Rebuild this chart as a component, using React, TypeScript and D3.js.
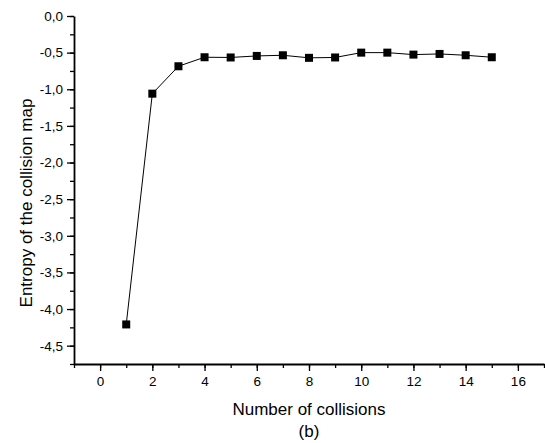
import React, { useRef, useEffect } from "react";
import * as d3 from "d3";

// collisions vs entropy
const collisions = [1, 2, 3, 4, 5, 6, 7, 8, 9, 10, 11, 12, 13, 14, 15];
const entropy = [
  -4.21, -1.06, -0.686, -0.563, -0.566, -0.545, -0.536, -0.571, -0.566, -0.5,
  -0.5, -0.527, -0.518, -0.536, -0.563,
];
const xTicks = [0, 2, 4, 6, 8, 10, 12, 14, 16];
const yTicks = [0, -0.5, -1, -1.5, -2, -2.5, -3, -3.5, -4, -4.5];

const App = () => {
  const svgRef = useRef<SVGSVGElement>(null);

  useEffect(() => {
    const W = 545,
      H = 443;
    const margin = { top: 16, right: 1, bottom: 79, left: 74 };

    const svg = d3.select(svgRef.current);
    svg.selectAll("*").remove();

    const x = d3.scaleLinear().domain([-1, 17]).range([margin.left, W - margin.right]);
    const y = d3.scaleLinear().domain([-4.75, 0]).range([H - margin.bottom, margin.top]);

    const fmt = (d: number) => d3.format(".1f")(d).replace(".", ",").replace("−", "-");
    const font = "Arial, 'Liberation Sans', sans-serif";

    // x axis
    const gx = svg.append("g").attr("transform", `translate(0,${y(-4.75)})`);
    gx.append("g")
      .call(d3.axisBottom(x).tickValues(d3.range(-1, 18, 1)).tickSize(4).tickFormat(() => ""))
      .call((g) => g.select(".domain").remove())
      .selectAll("line")
      .attr("stroke-width", 1.3);
    gx.append("g")
      .call(d3.axisBottom(x).tickValues(xTicks).tickSize(7).tickPadding(5).tickSizeOuter(0).tickFormat(d3.format("d")))
      .call((g) => g.select(".domain").attr("stroke-width", 1.8))
      .call((g) => g.selectAll("line").attr("stroke-width", 1.3))
      .call((g) => g.selectAll("text").attr("font-size", 13.5).attr("font-family", font));

    // y axis
    const gy = svg.append("g").attr("transform", `translate(${x(-1)},0)`);
    gy.append("g")
      .call(d3.axisLeft(y).tickValues(d3.range(0, -4.76, -0.25)).tickSize(4).tickFormat(() => ""))
      .call((g) => g.select(".domain").remove())
      .selectAll("line")
      .attr("stroke-width", 1.3);
    gy.append("g")
      .call(d3.axisLeft(y).tickValues(yTicks).tickSize(7).tickPadding(4).tickSizeOuter(0).tickFormat((d) => fmt(d as number)))
      .call((g) => g.select(".domain").attr("stroke-width", 1.8))
      .call((g) => g.selectAll("line").attr("stroke-width", 1.3))
      .call((g) => g.selectAll("text").attr("font-size", 13.5).attr("font-family", font));

    // line + markers
    const line = d3
      .line<number>()
      .x((_, i) => x(collisions[i]))
      .y((d) => y(d));
    svg.append("path").datum(entropy).attr("d", line).attr("fill", "none").attr("stroke", "#000").attr("stroke-width", 1);

    const s = 8;
    svg
      .selectAll("rect.pt")
      .data(entropy)
      .enter()
      .append("rect")
      .attr("class", "pt")
      .attr("x", (_, i) => x(collisions[i]) - s / 2)
      .attr("y", (d) => y(d) - s / 2)
      .attr("width", s)
      .attr("height", s)
      .attr("fill", "#000");

    // titles
    const cx = (x(-1) + x(17)) / 2;
    svg.append("text").attr("x", cx).attr("y", 415).attr("text-anchor", "middle").attr("font-size", 17).attr("font-family", font).text("Number of collisions");
    svg.append("text").attr("x", cx).attr("y", 437).attr("text-anchor", "middle").attr("font-size", 17).attr("font-family", font).text("(b)");
    svg
      .append("text")
      .attr("transform", `translate(32,203) rotate(-90)`)
      .attr("text-anchor", "middle")
      .attr("font-size", 17)
      .attr("font-family", font)
      .text("Entropy of the collision map");
  }, []);

  return (
    <div style={{ position: "absolute", left: 0, top: 0 }}>
      <svg ref={svgRef} width={545} height={443} style={{ display: "block", background: "#fff" }}></svg>
    </div>
  );
};

export default App;
